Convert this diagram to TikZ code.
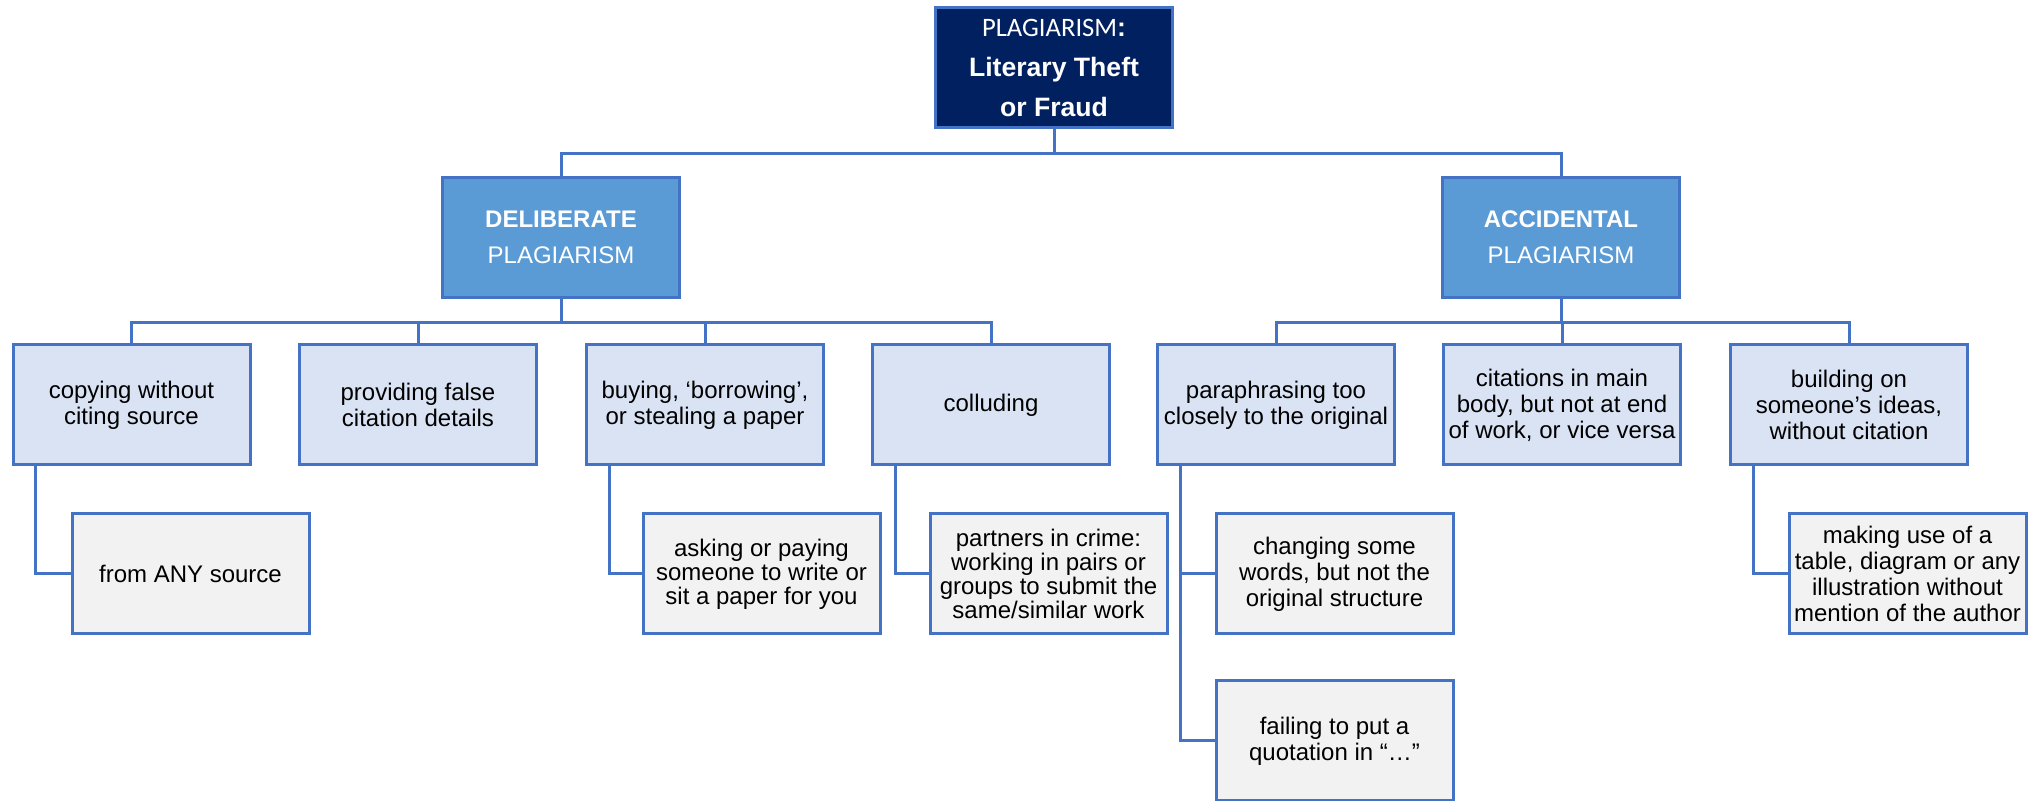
\documentclass[tikz,border=0pt]{standalone}
\usepackage{fontspec}
\setmainfont{Liberation Sans}
\newfontfamily\titlefont{Carlito}
\usetikzlibrary{calc}
\definecolor{navy}{HTML}{002060}
\definecolor{edge}{HTML}{4472C4}
\definecolor{midblue}{HTML}{5B9BD5}
\definecolor{pale}{HTML}{DAE3F3}
\definecolor{greybox}{HTML}{F2F2F2}
\begin{document}
\begin{tikzpicture}[x=0.5pt,y=-0.5pt,
  box/.style={draw=edge, line width=1.5pt, minimum width=118.5pt, minimum height=60pt,
    align=center, inner sep=1pt, font=\fontsize{12}{13}\selectfont},
  rootbox/.style={box, fill=navy, text=white, font=\fontsize{13.3}{20}\selectfont},
  typebox/.style={box, fill=midblue, text=white, font=\fontsize{12}{18}\selectfont},
  formbox/.style={box, fill=pale},
  casebox/.style={box, fill=greybox},
  tight/.style={font=\fontsize{12}{12}\selectfont},
  link/.style={draw=edge, line width=1.5pt}]
\useasboundingbox (0,0) rectangle (2042,801);

% root and the two kinds
\node[rootbox] (root) at (1054,68) {{\titlefont PLAGIARISM}\textbf{:}\\ \textbf{Literary Theft}\\ \textbf{or Fraud}};
\node[typebox] (delib) at (561,237.5) {\textbf{DELIBERATE}\\ PLAGIARISM};
\node[typebox] (acc) at (1561,237.5) {\textbf{ACCIDENTAL}\\ PLAGIARISM};

% forms of plagiarism
\node[formbox] (c1) at (131.5,405) {copying without\\citing source};
\node[formbox] (c2) at (418,405) {providing false\\citation details};
\node[formbox] (c3) at (705,405) {buying, ‘borrowing’,\\or stealing a paper};
\node[formbox] (c4) at (991,405) {colluding};
\node[formbox] (c5) at (1276,405) {paraphrasing too\\closely to the original};
\node[formbox] (c6) at (1562,405) {citations in main\\body, but not at end\\of work, or vice versa};
\node[formbox] (c7) at (1849,405) {building on\\someone’s ideas,\\without citation};

% examples
\node[casebox] (s1) at (190.5,574) {from ANY source};
\node[casebox, tight] (s3) at (761.5,574) {asking or paying\\someone to write or\\sit a paper for you};
\node[casebox, tight] (s4) at (1048.5,574) {partners in crime:\\working in pairs or\\groups to submit the\\same/similar work};
\node[casebox] (s5a) at (1334.5,574) {changing some\\words, but not the\\original structure};
\node[casebox] (s5b) at (1334.5,741) {failing to put a\\quotation in “…”};
\node[casebox] (s7) at (1907.5,574) {making use of a\\table, diagram or any\\illustration without\\mention of the author};

% connectors
\coordinate (busA) at (0,154);
\coordinate (busB) at (0,323);
\draw[link] (root.south) -- (root.south |- busA) -| (delib.north);
\draw[link] (root.south |- busA) -| (acc.north);
\foreach \c in {c1,c2,c3,c4}
  \draw[link] (delib.south) -- (delib.south |- busB) -| (\c.north);
\foreach \c in {c5,c6,c7}
  \draw[link] (acc.south) -- (acc.south |- busB) -| (\c.north);
\draw[link] ([xshift=12pt]c1.south west) |- (s1.west);
\draw[link] ([xshift=12pt]c3.south west) |- (s3.west);
\draw[link] ([xshift=12pt]c4.south west) |- (s4.west);
\draw[link] ([xshift=12pt]c5.south west) |- (s5a.west);
\draw[link] ([xshift=12pt]c5.south west) |- (s5b.west);
\draw[link] ([xshift=12pt]c7.south west) |- (s7.west);
\end{tikzpicture}
\end{document}
